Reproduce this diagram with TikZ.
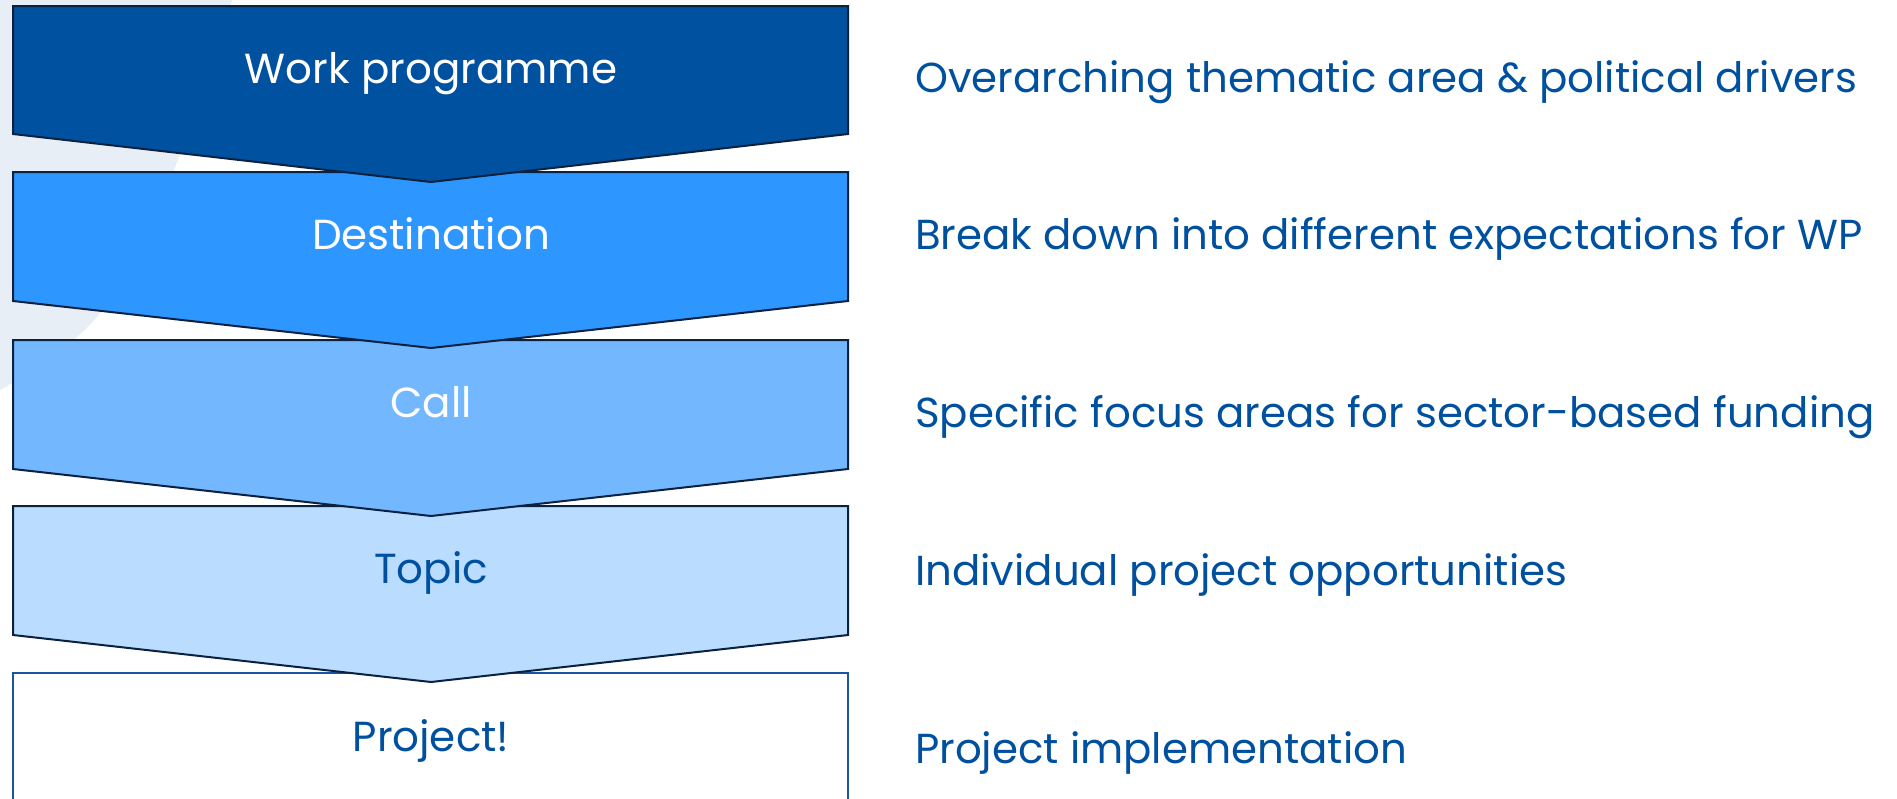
\documentclass[tikz,border=0pt]{standalone}
\usepackage{fontspec}
\setmainfont{Poppins}
\definecolor{navyline}{RGB}{11,33,64}
\definecolor{wpfill}{RGB}{0,81,160}
\definecolor{destfill}{RGB}{46,150,255}
\definecolor{callfill}{RGB}{115,183,255}
\definecolor{topicfill}{RGB}{186,220,255}
\definecolor{projline}{RGB}{26,86,160}
\definecolor{txtblue}{RGB}{0,80,160}
\definecolor{arcfill}{RGB}{231,238,245}
\tikzset{
  chev/.style={draw=navyline, line width=2pt, line join=miter},
  lbl/.style={anchor=base, inner sep=0pt, font=\fontsize{42}{50}\selectfont},
  desc/.style={anchor=base west, inner sep=0pt, text=txtblue, font=\fontsize{41.9}{50}\selectfont},
}
\begin{document}
\begin{tikzpicture}[x=1pt,y=-1pt]
\useasboundingbox (0,0) rectangle (1897,798);
\fill[white] (0,0) rectangle (1897,798);
% background arc
\fill[arcfill] (0,0) -- plot[smooth, tension=0.6] coordinates {(232,0) (178,160) (100,313) (0,390)} -- cycle;
% boxes, bottom first
\draw[draw=projline, line width=2pt, fill=white] (13,810) -- (13,673) -- (848,673) -- (848,810);
\draw[chev, fill=topicfill] (13,506) -- (848,506) -- (848,635) -- (431,682) -- (13,635) -- cycle;
\draw[chev, fill=callfill] (13,340) -- (848,340) -- (848,469) -- (431,516) -- (13,469) -- cycle;
\draw[chev, fill=destfill] (13,172) -- (848,172) -- (848,301) -- (431,348) -- (13,301) -- cycle;
\draw[chev, fill=wpfill] (13,6) -- (848,6) -- (848,134) -- (431,182) -- (13,134) -- cycle;
% labels
\node[lbl, text=white] (wp) at (431,83) {Work programme};
\node[lbl, text=white] (dest) at (431,249) {Destination};
\node[lbl, text=white] (call) at (431,417) {Call};
\node[lbl, text=txtblue] (topic) at (431,583) {Topic};
\node[lbl, text=txtblue] (proj) at (431,751) {Project!};
% descriptions
\node[desc] (d1) at (915,92) {Overarching thematic area \& political drivers};
\node[desc] (d2) at (915,249) {Break down into different expectations for WP};
\node[desc] (d3) at (915,427) {Specific focus areas for sector-based funding};
\node[desc] (d4) at (915,585) {Individual project opportunities};
\node[desc] (d5) at (915,763) {Project implementation};
\end{tikzpicture}
\end{document}
